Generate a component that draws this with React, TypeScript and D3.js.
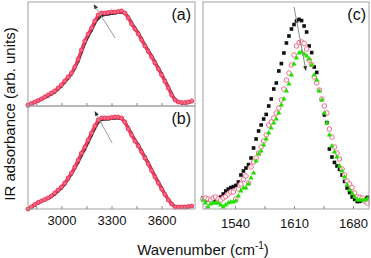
import React, { useEffect, useRef } from "react";
import * as d3 from "d3";

// OH stretching band, panels (a) and (b), sampled every 20 cm-1 (2800 .. 3780)
const wnOH = d3.range(2800, 3781, 20);
const ohRedA = [
  0.01, 0.025, 0.04, 0.055, 0.07, 0.09, 0.11, 0.13, 0.15, 0.18,
  0.21, 0.25, 0.29, 0.33, 0.39, 0.47, 0.56, 0.65, 0.72, 0.78,
  0.85, 0.91, 0.93, 0.93, 0.935, 0.94, 0.94, 0.945, 0.95, 0.93,
  0.88, 0.82, 0.77, 0.72, 0.66, 0.6, 0.545, 0.49, 0.43, 0.37,
  0.31, 0.245, 0.18, 0.11, 0.06, 0.04, 0.035, 0.035, 0.04, 0.05,
];
const ohBlackA = [
  0.0, 0.02, 0.035, 0.05, 0.065, 0.085, 0.1, 0.12, 0.14, 0.17,
  0.2, 0.24, 0.28, 0.32, 0.38, 0.45, 0.54, 0.63, 0.7, 0.76,
  0.83, 0.88, 0.905, 0.915, 0.92, 0.925, 0.93, 0.935, 0.94, 0.93,
  0.89, 0.83, 0.78, 0.73, 0.67, 0.61, 0.555, 0.5, 0.44, 0.38,
  0.32, 0.255, 0.19, 0.12, 0.065, 0.04, 0.03, 0.03, 0.035, 0.045,
];
const ohRedB = [
  0.0, 0.02, 0.045, 0.065, 0.08, 0.095, 0.11, 0.13, 0.16, 0.19,
  0.22, 0.26, 0.31, 0.36, 0.42, 0.49, 0.56, 0.62, 0.69, 0.76,
  0.83, 0.89, 0.91, 0.91, 0.91, 0.915, 0.92, 0.92, 0.91, 0.87,
  0.8, 0.74, 0.68, 0.63, 0.57, 0.51, 0.45, 0.385, 0.32, 0.26,
  0.2, 0.145, 0.09, 0.05, 0.02, 0.02, 0.02, 0.02, 0.025, 0.03,
];
const ohBlackB = [
  0.0, 0.015, 0.04, 0.06, 0.075, 0.09, 0.105, 0.125, 0.15, 0.18,
  0.21, 0.25, 0.3, 0.35, 0.41, 0.47, 0.54, 0.6, 0.67, 0.74,
  0.81, 0.87, 0.895, 0.9, 0.9, 0.905, 0.91, 0.91, 0.905, 0.87,
  0.81, 0.75, 0.69, 0.64, 0.58, 0.52, 0.46, 0.395, 0.33, 0.27,
  0.21, 0.15, 0.095, 0.055, 0.025, 0.02, 0.02, 0.02, 0.02, 0.025,
];

// amide band, panel (c), sampled every 3 cm-1 (1502 .. 1697)
const wnAmide = d3.range(1502, 1698, 3);
const amBlack = [
  0.055, 0.048, 0.045, 0.045, 0.045, 0.048, 0.052, 0.06, 0.075, 0.09,
  0.1, 0.107, 0.112, 0.118, 0.135, 0.17, 0.19, 0.205, 0.222, 0.255,
  0.305, 0.35, 0.39, 0.42, 0.45, 0.473, 0.515, 0.55, 0.6, 0.63,
  0.69, 0.727, 0.78, 0.83, 0.865, 0.9, 0.922, 0.94, 0.948, 0.942,
  0.915, 0.885, 0.815, 0.782, 0.71, 0.683, 0.595, 0.548, 0.47, 0.432,
  0.3, 0.26, 0.233, 0.215, 0.198, 0.17, 0.138, 0.105, 0.082, 0.06,
  0.048, 0.037, 0.038, 0.043, 0.05, 0.058,
];
const amPink = [
  0.05, 0.055, 0.05, 0.045, 0.055, 0.06, 0.05, 0.045, 0.055, 0.062,
  0.075, 0.085, 0.085, 0.05, 0.1, 0.125, 0.148, 0.165, 0.13, 0.21,
  0.235, 0.255, 0.28, 0.31, 0.34, 0.37, 0.42, 0.435, 0.455, 0.48,
  0.505, 0.545, 0.6, 0.645, 0.68, 0.72, 0.77, 0.815, 0.832, 0.835,
  0.828, 0.8, 0.745, 0.722, 0.66, 0.63, 0.595, 0.55, 0.515, 0.48,
  0.4, 0.36, 0.31, 0.28, 0.25, 0.2, 0.17, 0.14, 0.125, 0.108,
  0.08, 0.06, 0.058, 0.055, 0.04, 0.03,
];
const amGreen = [
  0.045, 0.03, 0.01, 0.025, 0.03, 0.03, 0.03, 0.02, 0.01, 0.02,
  0.03, 0.035, 0.035, 0.04, 0.065, 0.09, 0.105, 0.105, 0.125, 0.155,
  0.18, 0.24, 0.275, 0.29, 0.32, 0.35, 0.38, 0.405, 0.43, 0.45,
  0.48, 0.52, 0.55, 0.59, 0.625, 0.67, 0.725, 0.755, 0.78, 0.785,
  0.775, 0.765, 0.75, 0.72, 0.67, 0.645, 0.59, 0.545, 0.48, 0.43,
  0.37, 0.315, 0.285, 0.26, 0.215, 0.19, 0.16, 0.12, 0.095, 0.078,
  0.06, 0.045, 0.045, 0.045, 0.045, 0.05,
];

const ohTicks = [2850, 3000, 3150, 3300, 3450, 3600, 3750];
const ohLabels = [3000, 3300, 3600];
const amTicks = [1505, 1540, 1575, 1610, 1645, 1680];
const amLabels = [1540, 1610, 1680];

const FONT = "'Liberation Sans', Arial, sans-serif";

const App = () => {
  const ref = useRef<SVGSVGElement>(null);

  useEffect(() => {
    var svg = d3.select(ref.current);
    svg.selectAll("*").remove();

    var defs = svg.append("defs");
    defs
      .append("marker")
      .attr("id", "head")
      .attr("viewBox", "0 0 10 10")
      .attr("refX", 8)
      .attr("refY", 5)
      .attr("markerWidth", 5)
      .attr("markerHeight", 5)
      .attr("orient", "auto-start-reverse")
      .append("path")
      .attr("d", "M0,1L10,5L0,9Z")
      .attr("fill", "#333");

    var xOH = d3.scaleLinear().domain([2800, 3800]).range([28, 195]);
    var xAm = d3.scaleLinear().domain([1502, 1699]).range([203, 369]);

    // left panels (a) and (b)
    const drawOH = (
      y: d3.ScaleLinear<number, number>,
      red: number[],
      black: number[],
      label: string,
      arrow: number[][],
      withLabels: boolean
    ) => {
      var g = svg.append("g");
      var [y0, y1] = y.range();
      var line = d3
        .line<number>()
        .x((d, i) => xOH(wnOH[i]))
        .y((d) => y(d));

      g.append("path")
        .attr("d", line(black))
        .attr("fill", "none")
        .attr("stroke", "#2a2a2a")
        .attr("stroke-width", 3);
      g.selectAll("rect.sq")
        .data(black)
        .enter()
        .append("rect")
        .attr("x", (d, i) => xOH(wnOH[i]) - 1.4)
        .attr("y", (d) => y(d) - 1.4)
        .attr("width", 2.8)
        .attr("height", 2.8)
        .attr("fill", "#222");

      g.append("path")
        .attr("d", line(red))
        .attr("fill", "none")
        .attr("stroke", "#f23a5f")
        .attr("stroke-width", 3);
      g.selectAll("circle")
        .data(red)
        .enter()
        .append("circle")
        .attr("cx", (d, i) => xOH(wnOH[i]))
        .attr("cy", (d) => y(d))
        .attr("r", 2)
        .attr("fill", "#f86a86")
        .attr("stroke", "#ee3358")
        .attr("stroke-width", 0.9);

      // guide arrow
      g.append("line")
        .attr("x1", xOH(arrow[0][0]))
        .attr("y1", y(arrow[0][1]))
        .attr("x2", xOH(arrow[1][0]))
        .attr("y2", y(arrow[1][1]))
        .attr("stroke", "#9a9a9a")
        .attr("stroke-width", 1)
        .attr("marker-start", "url(#head)");

      // frame
      g.append("rect")
        .attr("x", 28)
        .attr("y", y1)
        .attr("width", 195 - 28)
        .attr("height", y0 - y1)
        .attr("fill", "none")
        .attr("stroke", "#a0a0a0");

      var axis = d3
        .axisBottom(xOH)
        .tickValues(ohTicks)
        .tickSizeInner(-3)
        .tickSizeOuter(0)
        .tickPadding(7)
        .tickFormat((d) => (withLabels && ohLabels.includes(+d) ? String(d) : ""));
      var ax = g.append("g").attr("transform", `translate(0,${y0})`).call(axis);
      ax.select(".domain").remove();
      ax.selectAll("line").attr("stroke", "#888");
      ax.selectAll("text").attr("font-family", FONT).attr("font-size", 13).attr("fill", "#111");

      g.append("text")
        .attr("x", 191)
        .attr("y", y1 + 18)
        .attr("text-anchor", "end")
        .attr("font-family", FONT)
        .attr("font-size", 16)
        .attr("fill", "#111")
        .text(label);
    };

    drawOH(
      d3.scaleLinear().domain([0, 1.04]).range([106, 2]),
      ohRedA,
      ohBlackA,
      "(a)",
      [[3196, 1.01], [3322, 0.68]],
      false
    );
    drawOH(
      d3.scaleLinear().domain([0, 1.03]).range([209, 106]),
      ohRedB,
      ohBlackB,
      "(b)",
      [[3202, 0.97], [3304, 0.66]],
      true
    );

    // right panel (c)
    var yAm = d3.scaleLinear().domain([0, 1.035]).range([209, 2]);
    var gc = svg.append("g");

    gc.selectAll("rect.sq")
      .data(amBlack)
      .enter()
      .append("rect")
      .attr("x", (d, i) => xAm(wnAmide[i]) - 1.8)
      .attr("y", (d) => yAm(d) - 1.8)
      .attr("width", 3.6)
      .attr("height", 3.6)
      .attr("fill", "#111");

    gc.selectAll("circle")
      .data(amPink)
      .enter()
      .append("circle")
      .attr("cx", (d, i) => xAm(wnAmide[i]))
      .attr("cy", (d) => yAm(d))
      .attr("r", 2.3)
      .attr("fill", "#fff")
      .attr("stroke", "#f26d88")
      .attr("stroke-width", 1);

    var tri = d3.symbol().type(d3.symbolTriangle).size(12);
    gc.selectAll("path.tri")
      .data(amGreen)
      .enter()
      .append("path")
      .attr("class", "tri")
      .attr("d", tri)
      .attr("transform", (d, i) => `translate(${xAm(wnAmide[i])},${yAm(d)})`)
      .attr("fill", "#22e000");

    gc.append("line")
      .attr("x1", xAm(1610))
      .attr("y1", yAm(1.01))
      .attr("x2", xAm(1624))
      .attr("y2", yAm(0.695))
      .attr("stroke", "#8a8a8a")
      .attr("stroke-width", 1)
      .attr("marker-end", "url(#head)");

    gc.append("rect")
      .attr("x", 203)
      .attr("y", 2)
      .attr("width", 369 - 203)
      .attr("height", 207)
      .attr("fill", "none")
      .attr("stroke", "#a0a0a0");

    var axC = gc
      .append("g")
      .attr("transform", "translate(0,209)")
      .call(
        d3
          .axisBottom(xAm)
          .tickValues(amTicks)
          .tickSizeInner(-3)
          .tickSizeOuter(0)
          .tickPadding(10)
          .tickFormat((d) => (amLabels.includes(+d) ? String(d) : ""))
      );
    axC.select(".domain").remove();
    axC.selectAll("line").attr("stroke", "#888");
    axC.selectAll("text").attr("font-family", FONT).attr("font-size", 13).attr("fill", "#111");

    gc.append("text")
      .attr("x", 366)
      .attr("y", 20)
      .attr("text-anchor", "end")
      .attr("font-family", FONT)
      .attr("font-size", 16)
      .attr("fill", "#111")
      .text("(c)");

    // axis titles
    var xt = svg
      .append("text")
      .attr("x", 203)
      .attr("y", 255)
      .attr("text-anchor", "middle")
      .attr("font-family", FONT)
      .attr("font-size", 15)
      .attr("fill", "#111");
    xt.append("tspan").text("Wavenumber (cm");
    xt.append("tspan").attr("font-size", 10).attr("dy", -6).text("-1");
    xt.append("tspan").attr("dy", 6).text(")");

    svg
      .append("text")
      .attr("transform", "translate(15,114) rotate(-90)")
      .attr("text-anchor", "middle")
      .attr("font-family", FONT)
      .attr("font-size", 15)
      .attr("fill", "#111")
      .text("IR adsorbance (arb. units)");
  }, []);

  return (
    <svg
      ref={ref}
      width={371}
      height={258}
      style={{ position: "absolute", left: 0, top: 0, background: "#fff" }}
    />
  );
};

export default App;
